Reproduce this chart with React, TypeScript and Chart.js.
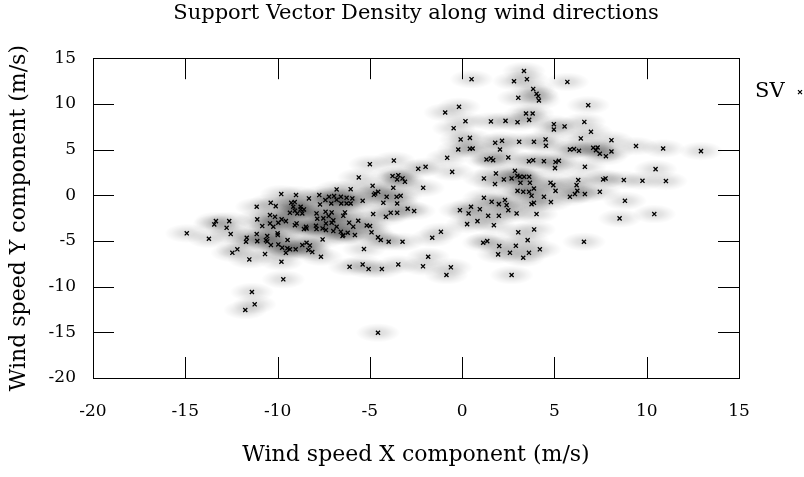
import { useEffect, useRef } from "react";
import { Chart, registerables } from "chart.js";

Chart.register(...registerables);

const FONT = "'DejaVu Serif', serif";

const chartTitle = "Support Vector Density along wind directions";
const xAxisTitle = "Wind speed X component (m/s)";
const yAxisTitle = "Wind speed Y component (m/s)";
const legendLabel = "SV";

const xTickValues = [-20, -15, -10, -5, 0, 5, 10, 15];
const yTickValues = [-20, -15, -10, -5, 0, 5, 10, 15];

// Support vectors, western (negative X) group
const westX = [
  -5.0, -3.7, -5.6, -3.77, -3.52, -3.73, -4.85, -4.71, -4.78, -4.55, -4.27, -3.52, -4.09, -5.39, -6.04,
  -6.8, -8.3, -7.74, -9.8, -9.0, -10.37, -10.1, -11.13, -9.26, -9.07, -7.41, -7.21, -6.94, -6.8, -6.57,
  -6.26, -5.95, -7.09, -6.55, -6.26, -6.04, -7.7, -9.15, -8.75, -9.06, -8.75, -8.57, -8.93, -8.66, -9.33,
  -7.89, -7.4, -7.07, -7.85, -7.52, -7.23, -6.98, -6.35, -6.44, -5.63, -6.12, -5.9, -5.17, -4.99, -4.82,
  -4.56, -4.41, -3.98, -4.13, -3.87, -3.52, -4.91, -5.32, -6.1, -5.39, -5.07, -4.35, -3.46, -7.65, -8.33,
  -8.12, -8.43, -8.25, -8.66, -9.02, -9.47, -9.33, -9.55, -9.75, -9.96, -10.36, -10.56, -10.68, -9.79, -11.53,
  -12.45, -12.18, -11.71, -11.67, -11.13, -11.1, -10.56, -10.63, -10.0, -9.99, -9.46, -10.41, -10.83, -10.23, -9.96,
  -9.55, -9.78, -10.41, -11.1, -10.14, -9.06, -8.97, -8.46, -8.57, -8.43, -7.92, -7.89, -7.56, -7.38, -6.98,
  -6.8, -6.57, -6.44, -6.48, -6.2, -5.81, -7.38, -7.07, -7.56, -3.55, -13.34, -13.43, -12.76, -12.62, -12.54,
  -14.92, -13.72, -9.69, -11.39, -11.24, -11.75, -4.56, -2.38, -1.98, -3.46, -3.23, -3.1, -2.11, -3.33, -2.95,
  -2.6, -1.15, -1.62, -3.23, -1.84, -2.12, -0.61, -0.85,
];
const westY = [
  3.4, 3.8, 1.95, 2.1, 1.73, 0.81, 1.03, 0.2, 0.05, 0.38, -0.83, -0.9, -0.17, -0.61, 0.67,
  0.64, -0.35, 0.02, 0.13, 0.02, -0.83, -1.19, -1.26, -0.83, -0.75, -0.53, -0.17, -0.09, -0.5, -0.17,
  -0.28, -0.35, -0.9, -0.9, -0.9, -0.9, -1.0, -1.26, -1.26, -1.7, -1.55, -1.55, -1.99, -1.99, -1.92,
  -1.99, -1.81, -1.88, -2.57, -2.53, -2.28, -2.75, -1.88, -2.25, -2.79, -3.0, -3.44, -3.3, -3.37, -2.06,
  -4.61, -4.9, -5.09, -2.36, -1.92, -1.92, -4.06, -5.89, -7.83, -7.57, -8.08, -8.08, -7.57, -6.73, -6.0,
  -6.22, -5.2, -5.49, -5.45, -5.92, -5.81, -5.92, -6.3, -5.74, -5.38, -5.45, -5.05, -6.44, -7.28, -7.02,
  -6.3, -5.92, -5.09, -4.65, -4.25, -5.02, -4.47, -4.91, -4.17, -4.36, -4.9, -3.08, -3.37, -3.45, -3.01,
  -2.83, -2.64, -2.17, -2.64, -2.36, -3.27, -3.08, -3.45, -3.7, -3.63, -3.34, -3.7, -3.63, -3.81, -3.92,
  -3.45, -4.0, -4.36, -4.47, -4.1, -4.36, -3.08, -3.01, -4.83, -0.17, -2.83, -3.19, -3.56, -2.83, -4.25,
  -4.17, -4.76, -9.2, -10.59, -11.94, -12.56, -15.05, 2.89, 3.11, 2.2, 1.84, 1.47, 0.81, -0.06, -1.48,
  -1.73, -4.0, -4.65, -5.09, -6.73, -7.78, -7.89, -8.73,
];

// Support vectors, eastern (positive X) group
const eastX = [
  0.51, 3.35, 2.81, 3.51, 3.85, 4.03, 4.12, 4.16, 3.04, 5.7, -0.92, -0.17, 0.18, -0.46, 1.56,
  2.35, 3.0, 3.46, 3.82, 3.63, 4.97, 4.97, 5.55, -0.08, 0.42, -0.21, 0.42, 0.57, 1.79, 2.16,
  2.05, 3.09, 3.89, 4.52, 4.54, -0.81, 1.32, 1.56, 1.68, 2.5, 3.62, 3.85, 4.43, 5.06, 5.24,
  5.03, -0.54, 1.18, 1.83, 1.78, 2.26, 2.68, 2.86, 2.99, 3.13, 3.36, 3.63, 3.16, 3.67, 3.0,
  3.31, 3.63, 3.89, 3.76, 3.89, 3.76, 4.43, 4.79, 4.94, 5.06, 4.81, 5.84, 1.18, 1.6, 1.99,
  2.32, 2.41, 2.5, 2.95, 4.03, 1.41, 1.99, -0.12, 0.35, 0.48, 0.96, 0.27, 0.83, 1.72, 1.14,
  1.36, 2.01, 2.91, 3.55, 3.04, 3.9, 4.21, 1.95, 2.59, 3.31, 3.62, 2.68, 6.83, 6.62, 6.98,
  6.43, 8.09, 5.84, 6.06, 6.33, 7.1, 7.34, 7.25, 7.46, 7.79, 8.09, 9.42, 10.89, 12.94, 6.65,
  10.48, 6.29, 6.2, 6.24, 6.11, 6.65, 7.64, 7.77, 8.76, 9.77, 11.04, 7.46, 8.82, 10.41, 8.53,
  6.6,
];
const eastY = [
  12.7, 13.6, 12.48, 12.7, 11.64, 11.1, 10.84, 10.37, 10.66, 12.4, 9.06, 9.68, 8.11, 7.34, 8.08,
  8.14, 8.0, 8.95, 8.95, 8.25, 7.78, 7.2, 7.53, 6.11, 6.28, 5.01, 5.08, 5.12, 5.74, 5.96,
  5.01, 5.85, 5.85, 6.11, 5.41, 4.1, 3.92, 4.03, 3.84, 4.14, 3.73, 3.84, 3.73, 3.63, 3.77,
  2.97, 2.56, 1.84, 2.39, 1.22, 1.73, 1.84, 2.67, 2.13, 2.02, 2.02, 2.02, 1.36, 1.36, 0.48,
  0.38, 0.38, 0.74, -0.06, -0.83, -0.97, -0.17, 1.36, 1.11, 0.48, -0.75, -0.17, -0.28, -0.72, -0.97,
  -0.53, -1.08, -1.63, -1.99, -2.06, -2.25, -2.25, -1.63, -1.99, -1.26, -1.52, -3.16, -2.83, -3.27, -5.2,
  -5.02, -5.56, -5.53, -4.91, -4.06, -3.74, -5.92, -6.47, -6.3, -6.84, -6.3, -8.73, 9.86, 8.03, 6.94,
  6.22, 6.03, 5.01, 5.05, 4.86, 5.19, 5.23, 4.94, 4.54, 4.28, 4.79, 5.38, 5.12, 4.83, 3.11,
  2.86, 1.66, 1.11, 0.49, 0.13, 0.13, 1.73, 1.84, 1.66, 1.58, 1.55, 0.38, -0.61, -2.06, -2.53,
  -5.09,
];

const allX = [...westX, ...eastX];
const allY = [...westY, ...eastY];

const KERNEL_X = 1.2; // density kernel radius in data units
const KERNEL_Y = 1.05;

const densityPlugin = {
  id: "densityHalo",
  beforeDatasetsDraw(chart: any) {
    const { ctx, chartArea: a, scales } = chart;
    const xs = scales.x;
    const ys = scales.y;
    const rx = Math.abs(xs.getPixelForValue(KERNEL_X) - xs.getPixelForValue(0));
    const ry = Math.abs(ys.getPixelForValue(KERNEL_Y) - ys.getPixelForValue(0));
    ctx.save();
    ctx.beginPath();
    ctx.rect(a.left, a.top, a.right - a.left, a.bottom - a.top);
    ctx.clip();
    const g = ctx.createRadialGradient(0, 0, 0, 0, 0, 1);
    const A = 0.14;
    g.addColorStop(0, `rgba(0,0,0,${A})`);
    g.addColorStop(0.35, `rgba(0,0,0,${A * 0.78})`);
    g.addColorStop(0.7, `rgba(0,0,0,${A * 0.32})`);
    g.addColorStop(1, "rgba(0,0,0,0)");
    for (let i = 0; i < allX.length; i++) {
      const cx = xs.getPixelForValue(allX[i]);
      const cy = ys.getPixelForValue(allY[i]);
      ctx.save();
      ctx.translate(cx, cy);
      ctx.scale(rx, ry);
      ctx.fillStyle = g;
      ctx.beginPath();
      ctx.arc(0, 0, 1, 0, Math.PI * 2);
      ctx.fill();
      ctx.restore();
    }
    ctx.restore();
  },
};

const framePlugin = {
  id: "gnuFrame",
  afterDatasetsDraw(chart: any) {
    const { ctx, chartArea: a, scales } = chart;
    const xs = scales.x;
    const ys = scales.y;
    const TL = 21;
    ctx.save();
    ctx.strokeStyle = "#000";
    ctx.lineWidth = 1;
    ctx.beginPath();
    for (const v of xTickValues) {
      const p = Math.round(xs.getPixelForValue(v)) + 0.5;
      ctx.moveTo(p, a.bottom);
      ctx.lineTo(p, a.bottom - TL);
      ctx.moveTo(p, a.top);
      ctx.lineTo(p, a.top + TL);
    }
    for (const v of yTickValues) {
      const p = Math.round(ys.getPixelForValue(v)) + 0.5;
      ctx.moveTo(a.left, p);
      ctx.lineTo(a.left + TL, p);
      ctx.moveTo(a.right, p);
      ctx.lineTo(a.right - TL, p);
    }
    ctx.stroke();
    ctx.strokeRect(Math.round(a.left) + 0.5, Math.round(a.top) + 0.5, Math.round(a.right - a.left), Math.round(a.bottom - a.top));

    // key (outside, right)
    ctx.fillStyle = "#000";
    ctx.font = `21px ${FONT}`;
    ctx.textAlign = "left";
    ctx.textBaseline = "middle";
    ctx.fillText(legendLabel, a.right + 16, a.top + 33);
    const mx = a.right + 61;
    const my = a.top + 34;
    const r = 2;
    ctx.lineWidth = 1.2;
    ctx.beginPath();
    ctx.moveTo(mx - r, my - r);
    ctx.lineTo(mx + r, my + r);
    ctx.moveTo(mx + r, my - r);
    ctx.lineTo(mx - r, my + r);
    ctx.stroke();
    ctx.restore();
  },
};

export default function App() {
  const ref = useRef<HTMLCanvasElement | null>(null);

  useEffect(() => {
    document.body.style.margin = "0";
    const canvas = ref.current;
    if (!canvas) return;
    const chart = new Chart(canvas, {
      type: "scatter",
      data: {
        datasets: [
          {
            label: legendLabel,
            data: allX.map((x, i) => ({ x, y: allY[i] })),
            pointStyle: "crossRot",
            pointRadius: 2.9,
            pointHoverRadius: 2.9,
            borderColor: "#000",
            backgroundColor: "#000",
            borderWidth: 1.3,
          },
        ],
      },
      options: {
        responsive: false,
        animation: false,
        layout: { padding: { top: 0, right: 65, left: 0, bottom: 0 } },
        plugins: {
          legend: { display: false },
          tooltip: { enabled: false },
          title: {
            display: true,
            text: chartTitle,
            fullSize: false,
            color: "#000",
            font: { family: FONT, size: 21, weight: "normal", lineHeight: 1.2 },
            padding: { top: 1, bottom: 32 },
          },
        },
        scales: {
          x: {
            type: "linear",
            min: -20,
            max: 15,
            afterBuildTicks: (s: any) => {
              s.ticks = xTickValues.map((v) => ({ value: v }));
            },
            afterFit: (s: any) => {
              s.height = 99;
            },
            grid: { display: false, drawTicks: false },
            border: { display: false },
            ticks: {
              color: "#000",
              font: { family: FONT, size: 17 },
              padding: 23,
              maxRotation: 0,
              autoSkip: false,
            },
            title: {
              display: true,
              text: xAxisTitle,
              color: "#000",
              font: { family: FONT, size: 22, lineHeight: 1.2 },
              padding: { top: 0, bottom: 9 },
            },
          },
          y: {
            type: "linear",
            min: -20,
            max: 15,
            afterBuildTicks: (s: any) => {
              s.ticks = yTickValues.map((v) => ({ value: v }));
            },
            afterFit: (s: any) => {
              s.width = 93;
            },
            grid: { display: false, drawTicks: false },
            border: { display: false },
            ticks: {
              color: "#000",
              font: { family: FONT, size: 17 },
              padding: 17,
              autoSkip: false,
            },
            title: {
              display: true,
              text: yAxisTitle,
              color: "#000",
              font: { family: FONT, size: 22, lineHeight: 1.2 },
              padding: { top: 6, bottom: 0 },
            },
          },
        },
      },
      plugins: [densityPlugin, framePlugin],
    });
    return () => chart.destroy();
  }, []);

  return <canvas ref={ref} width={804} height={477} style={{ display: "block" }} />;
}
